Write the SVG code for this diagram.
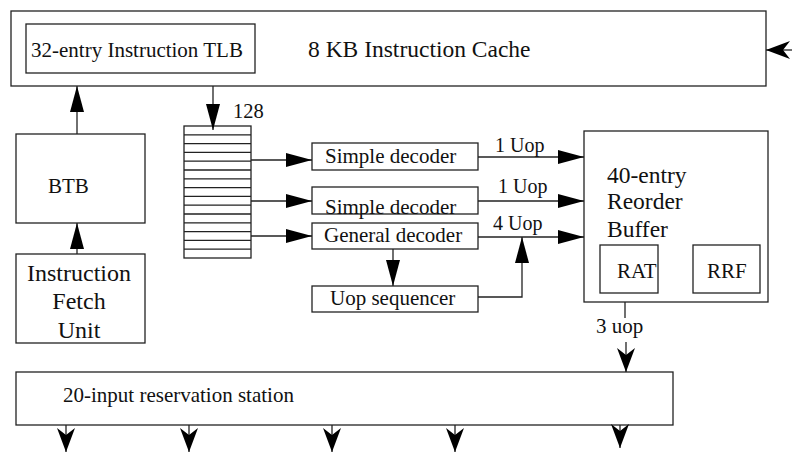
<svg xmlns="http://www.w3.org/2000/svg" width="792" height="453" viewBox="0 0 792 453">
<style>
.b{fill:#fff;stroke:#222;stroke-width:1.3}
.l{fill:none;stroke:#222;stroke-width:1.3}
text{font-family:"Liberation Serif","Times New Roman",serif;fill:#111;font-size:21px}
.big{font-size:23.5px}
.m{text-anchor:middle}
</style>
<defs>
<marker id="tri" markerWidth="26" markerHeight="14" refX="26" refY="7" orient="auto" markerUnits="userSpaceOnUse"><path d="M0,0 L26,7 L0,14 z" fill="#000"/></marker>
<marker id="st" markerWidth="24" markerHeight="18" refX="24" refY="9" orient="auto" markerUnits="userSpaceOnUse"><path d="M0,0 L24,9 L0,18 L7,9 z" fill="#000"/></marker>
</defs>
<rect width="792" height="453" fill="#fff"/>
<g id="cache"><rect class="b" x="11" y="11" width="755" height="75"/><text x="308" y="57" style="font-size:23.5px">8 KB Instruction Cache</text></g>
<g id="tlb"><rect class="b" x="26" y="24" width="229" height="49"/><text x="31" y="57">32-entry Instruction TLB</text></g>
<g id="btb"><rect class="b" x="16" y="134" width="129" height="89"/><text x="48" y="193">BTB</text></g>
<g id="ifu"><rect class="b" x="16" y="254" width="129" height="89"/><text class="m" x="79" y="281" style="font-size:24px">Instruction</text><text class="m" x="79" y="309" style="font-size:24px">Fetch</text><text class="m" x="79" y="338" style="font-size:24px">Unit</text></g>
<g id="buffer"><rect class="b" x="184" y="126" width="67" height="132"/><path class="l" d="M184,134.8H251M184,143.6H251M184,152.4H251M184,161.2H251M184,170H251M184,178.8H251M184,187.6H251M184,196.4H251M184,205.2H251M184,214H251M184,222.8H251M184,231.6H251M184,240.4H251M184,249.2H251"/></g>
<g id="sd1"><rect class="b" x="312" y="143" width="166" height="27"/><text x="325" y="163">Simple decoder</text></g>
<g id="sd2"><rect class="b" x="312" y="187" width="166" height="27"/><text x="325" y="214">Simple decoder</text></g>
<g id="gd"><rect class="b" x="312" y="223" width="166" height="26"/><text x="324" y="242">General decoder</text></g>
<g id="us"><rect class="b" x="312" y="286" width="166" height="26"/><text x="330" y="305">Uop sequencer</text></g>
<g id="rob"><rect class="b" x="584" y="131" width="184" height="171"/><text class="big" x="607" y="183">40-entry</text><text class="big" x="607" y="209">Reorder</text><text class="big" x="607" y="237">Buffer</text></g>
<g id="rat"><rect class="b" x="600" y="245" width="58" height="48"/><text x="617" y="278">RAT</text></g>
<g id="rrf"><rect class="b" x="693" y="245" width="67" height="48"/><text x="707" y="278">RRF</text></g>
<g id="rs"><rect class="b" x="16" y="372" width="657" height="53"/><text x="63" y="402">20-input reservation station</text></g>
<g id="connectors">
<path class="l" d="M792,50H766" marker-end="url(#st)"/>
<path class="l" d="M77,134V86" marker-end="url(#tri)"/>
<path class="l" d="M77,254V223" marker-end="url(#tri)"/>
<path class="l" d="M213,86V130" marker-end="url(#tri)"/>
<text x="233" y="118" style="font-size:20.5px">128</text>
<path class="l" d="M251,160H312" marker-end="url(#tri)"/>
<path class="l" d="M251,201H312" marker-end="url(#tri)"/>
<path class="l" d="M251,236H312" marker-end="url(#tri)"/>
<path class="l" d="M478,157H584" marker-end="url(#tri)"/>
<path class="l" d="M478,201H584" marker-end="url(#tri)"/>
<path class="l" d="M478,237H584" marker-end="url(#tri)"/>
<text x="495" y="152" style="font-size:20px">1 Uop</text>
<text x="498" y="193" style="font-size:20px">1 Uop</text>
<text x="493" y="230" style="font-size:20px">4 Uop</text>
<path class="l" d="M393,249V286" marker-end="url(#tri)"/>
<path class="l" d="M478,297H522V237" marker-end="url(#tri)"/>
<path class="l" d="M625,302V318"/>
<text x="596" y="333">3 uop</text>
<path class="l" d="M626,342V372" marker-end="url(#st)"/>
<path class="l" d="M66,425V452" marker-end="url(#st)"/>
<path class="l" d="M189,425V452" marker-end="url(#st)"/>
<path class="l" d="M332,425V452" marker-end="url(#st)"/>
<path class="l" d="M455,425V452" marker-end="url(#st)"/>
<path class="l" d="M620,425V448" marker-end="url(#st)"/>
</g>
</svg>
